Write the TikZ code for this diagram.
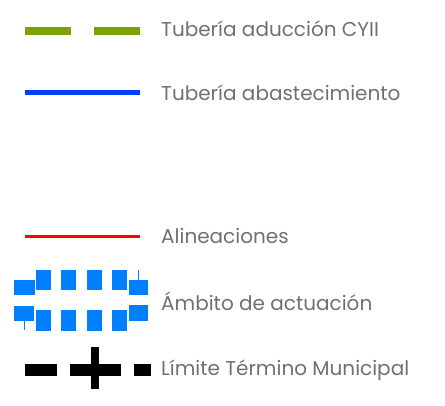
\documentclass[tikz,border=0pt]{standalone}
\usepackage{fontspec}
\setmainfont{Poppins}
\usetikzlibrary{positioning}

\definecolor{aduccion}{RGB}{122,163,0}
\definecolor{abastec}{RGB}{0,64,255}
\definecolor{ambito}{RGB}{0,128,255}
\definecolor{rotulo}{RGB}{112,112,112}

\begin{document}
\begin{tikzpicture}[x=1pt, y=-1pt,
    rotulo/.style={anchor=base west, inner sep=0pt, text=rotulo, font=\fontsize{20}{24}\selectfont},
    cuadro/.style={fill=ambito, draw=none}]
  \useasboundingbox (0,0) rectangle (445,405);

  % rotulos de la leyenda
  \node[rotulo] at (161, 36.7) (aduccion) {Tubería aducción CYII};
  \node[rotulo] at (161, 100) (abastec) {Tubería abastecimiento};
  \node[rotulo] at (161, 243.3) (alineac) {Alineaciones};
  \node[rotulo] at (161, 310.7) (ambito) {Ámbito de actuación};
  \node[rotulo] at (161, 375.7) (limite) {Límite Término Municipal};

  % tuberia aduccion
  \fill[aduccion] (25, 27) rectangle (71, 35);
  \fill[aduccion] (94, 27) rectangle (140, 35);

  % tuberia abastecimiento
  \fill[abastec] (25, 90) rectangle (140, 95);

  % alineaciones
  \fill[red] (25, 234.8) rectangle (140, 238.3);

  % ambito de actuacion
  \foreach \x in {35.7, 61, 86.7, 112.3} {
    \fill[cuadro] (\x, 270) rectangle ++(15, 20);
    \fill[cuadro] (\x, 310) rectangle ++(15, 20.5);
  }
  \fill[cuadro] (14.3, 280) rectangle (35, 295);
  \fill[cuadro] (129, 280) rectangle (148.3, 295);
  \fill[cuadro] (14.3, 305.7) rectangle (34.3, 321);
  \fill[cuadro] (129, 305) rectangle (148.3, 320.7);
  \draw[ambito, line width=0.8pt] (138, 270) -- (138, 280);
  \draw[ambito, line width=0.8pt] (24.3, 321) -- (24.3, 330);

  % limite termino municipal
  \fill[black] (25, 364) rectangle (56.7, 376);
  \fill[black] (70, 364) rectangle (120.7, 376);
  \fill[black] (91, 346.7) rectangle (99.3, 389);
  \fill[black] (134, 364) rectangle (150.7, 376);
\end{tikzpicture}
\end{document}
